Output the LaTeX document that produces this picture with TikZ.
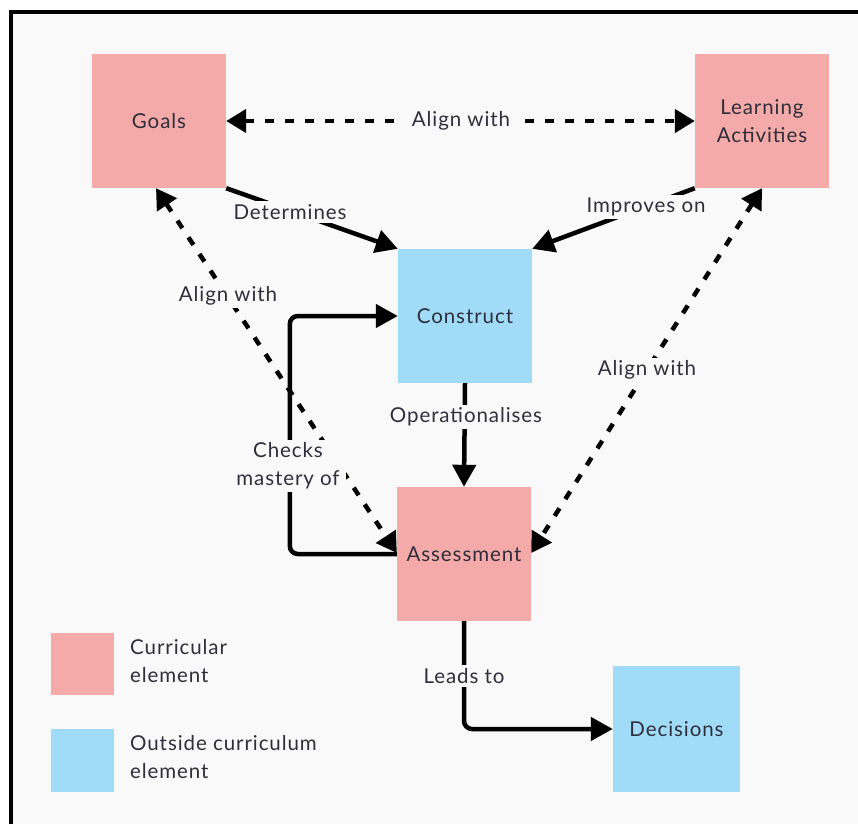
\documentclass[tikz,border=0pt]{standalone}
\usepackage{fontspec}
\setmainfont{Lato}[LetterSpace=4.5]
\usetikzlibrary{arrows.meta,calc}
\definecolor{bgc}{HTML}{F9F9F9}
\definecolor{pinkc}{HTML}{F4AAA8}
\definecolor{bluec}{HTML}{A0DCF8}
\definecolor{txtc}{HTML}{2E2E3C}
\tikzset{
  box/.style={rectangle, inner sep=0pt, minimum width=134pt, minimum height=134pt, text=txtc, font=\fontsize{20.5}{28}\selectfont, align=center},
  pinkbox/.style={box, fill=pinkc},
  bluebox/.style={box, fill=bluec},
  conn/.style={line width=4.5pt, -{Triangle[length=22pt,width=23pt]}},
  dconn/.style={line width=4.5pt, dash pattern=on 9pt off 11pt, {Triangle[length=20pt,width=23pt]}-{Triangle[length=20pt,width=23pt]}},
  lbl/.style={fill=bgc, text=txtc, inner ysep=3pt, inner xsep=6pt, font=\fontsize{20.5}{28}\selectfont, align=center},
  legtext/.style={anchor=west, text=txtc, inner sep=0pt, font=\fontsize{20.5}{28}\selectfont, align=left}
}
\begin{document}
\begin{tikzpicture}[x=1pt,y=-1pt]
\useasboundingbox (0,0) rectangle (858,824);
\fill[white] (0,0) rectangle (858,824);
\fill[bgc] (11,12) rectangle (858,824);
\draw[line width=4pt] (11,824) -- (11,12) -- (858,12);
% nodes
\node[pinkbox] (goals) at (159,121) {Goals};
\node[pinkbox] (la) at (762,121) {Learning\\Activities};
\node[bluebox] (construct) at (465,316) {Construct};
\node[pinkbox] (assess) at (464,554) {Assessment};
\node[bluebox, minimum width=127pt, minimum height=126pt] (dec) at (676.5,729) {Decisions};
% legend
\node[pinkbox, minimum width=63pt, minimum height=62pt] (legp) at (82.5,664) {};
\node[bluebox, minimum width=63pt, minimum height=63pt] (legb) at (82.5,760.5) {};
\node[legtext] (legpt) at (130,661) {Curricular\\element};
\node[legtext] (legbt) at (130,757) {Outside curriculum\\element};
% connectors
\draw[dconn] (goals.east) -- (la.west);
\draw[conn] (goals.south east) -- (construct.north west);
\draw[conn] (la.south west) -- (construct.north east);
\draw[dconn] ([xshift=-3pt]goals.south) -- ([yshift=1pt]assess.west);
\draw[dconn] (la.south) -- ([yshift=1pt]assess.east);
\draw[conn] (construct.south) -- (assess.north);
\draw[conn, rounded corners=8pt] (assess.west) -- ++(-107,0) |- (construct.west);
\draw[conn, rounded corners=8pt] (assess.south) |- (dec.west);
% labels
\node[lbl, inner xsep=9pt] (l1) at (461,121) {Align with};
\node[lbl] (l2) at (290,212) {Determines};
\node[lbl] (l3) at (646,207) {Improves on};
\node[lbl] (l4) at (228,296) {Align with};
\node[lbl] (l5) at (647,370) {Align with};
\node[lbl] (l6) at (466,417) {Operationalises};
\node[lbl] (l7) at (288,466) {Checks\\mastery of};
\node[lbl] (l8) at (464,676) {Leads to};
\end{tikzpicture}
\end{document}
